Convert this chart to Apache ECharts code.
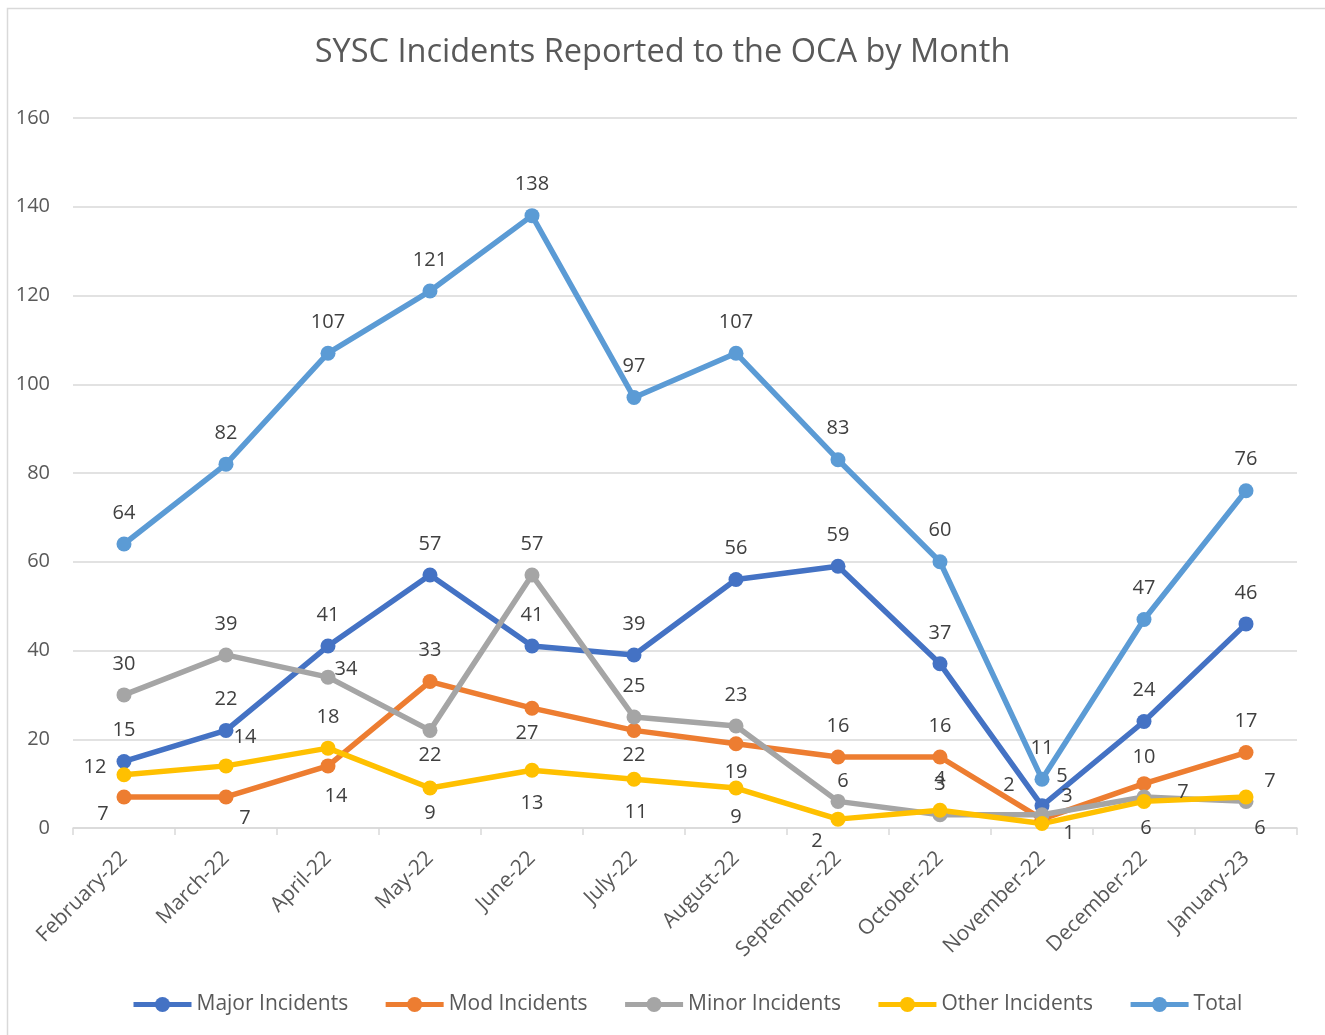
<!DOCTYPE html>
<html>
<head>
<meta charset="utf-8">
<script src="https://cdn.jsdelivr.net/npm/echarts@6/dist/echarts.min.js"></script>
<style>
  html, body { margin: 0; padding: 0; background: #fff; }
  #chart { width: 1325px; height: 1035px; }
</style>
</head>
<body>
<div id="chart"></div>
<script>
// data
var months = ['February-22', 'March-22', 'April-22', 'May-22', 'June-22', 'July-22',
              'August-22', 'September-22', 'October-22', 'November-22', 'December-22', 'January-23'];
var majorIncidents = [15, 22, 41, 57, 41, 39, 56, 59, 37, 5, 24, 46];
var modIncidents   = [7, 7, 14, 33, 27, 22, 19, 16, 16, 2, 10, 17];
var minorIncidents = [30, 39, 34, 22, 57, 25, 23, 6, 3, 3, 7, 6];
var otherIncidents = [12, 14, 18, 9, 13, 11, 9, 2, 4, 1, 6, 7];
var totalIncidents = [64, 82, 107, 121, 138, 97, 107, 83, 60, 11, 47, 76];

// label offsets from the point centre (null = above)
var majorLabelPos = [null, null, null, null, null, null, null, null, null, [20, -30], null, null];
var modLabelPos   = [[-21, 17], [19, 21], [8, 30], null, [-5, 25], [0, 25], [0, 29], null, null, [-33, -34], [0, -26], null];
var minorLabelPos = [null, null, [18, -8], [0, 25], null, null, null, [5, -20], [0, -30], [25, -18], [39, -5], [14, 27]];
var otherLabelPos = [[-29, -7], [19, -29], null, [0, 25], [0, 33], [2, 33], [0, 29], [-21, 22], null, [27, 10], [2, 27], [24, -16]];
var totalLabelPos = [null, null, null, null, null, null, null, null, null, null, null, null];

var FONT = '"Open Sans", "Noto Sans", sans-serif';

function buildData(values, offsets) {
  return values.map(function (v, i) {
    return { value: v, label: { offset: offsets[i] || [0, -31] } };
  });
}

function lineSeries(name, color, values, offsets) {
  return {
    name: name,
    type: 'line',
    data: buildData(values, offsets),
    symbol: 'circle',
    symbolSize: 15,
    lineStyle: { color: color, width: 5.5 },
    itemStyle: { color: color },
    label: {
      show: true,
      position: 'inside',
      fontSize: 20,
      fontFamily: FONT,
      color: '#404040'
    },
    emphasis: { disabled: true }
  };
}

var myChart = echarts.init(document.getElementById('chart'));
var option = {
  animation: false,
  backgroundColor: '#fff',
  graphic: [{
    type: 'rect',
    shape: { x: 7.5, y: 8.5, width: 1400, height: 1100 },
    style: { fill: 'none', stroke: '#D9D9D9', lineWidth: 1.5 },
    silent: true
  }],
  title: {
    text: 'SYSC Incidents Reported to the OCA by Month',
    left: 'center',
    top: 31,
    textStyle: { fontSize: 32.5, fontWeight: 'normal', color: '#595959', fontFamily: FONT }
  },
  legend: {
    bottom: 15,
    left: 126,
    itemWidth: 58,
    itemHeight: 19,
    itemGap: 35,
    lineStyle: { width: 5 },
    textStyle: { fontSize: 21, color: '#595959', fontFamily: FONT },
    data: ['Major Incidents', 'Mod Incidents', 'Minor Incidents', 'Other Incidents', 'Total']
  },
  grid: { left: 73, right: 28, top: 118, bottom: 207 },
  xAxis: {
    type: 'category',
    data: months,
    boundaryGap: true,
    axisLine: { lineStyle: { color: '#D9D9D9', width: 1.5 } },
    axisTick: { show: true, length: 7, lineStyle: { color: '#D9D9D9', width: 1.5 } },
    axisLabel: { rotate: 45, fontSize: 21, color: '#595959', fontFamily: FONT, margin: 27, interval: 0 }
  },
  yAxis: {
    type: 'value',
    min: 0,
    max: 160,
    interval: 20,
    axisLine: { show: false },
    axisTick: { show: false },
    splitLine: { lineStyle: { color: '#D9D9D9', width: 1.5 } },
    axisLabel: { fontSize: 20, color: '#595959', fontFamily: FONT, margin: 23 }
  },
  series: [
    lineSeries('Major Incidents', '#4472C4', majorIncidents, majorLabelPos),
    lineSeries('Mod Incidents', '#ED7D31', modIncidents, modLabelPos),
    lineSeries('Minor Incidents', '#A5A5A5', minorIncidents, minorLabelPos),
    lineSeries('Other Incidents', '#FFC000', otherIncidents, otherLabelPos),
    lineSeries('Total', '#5B9BD5', totalIncidents, totalLabelPos)
  ]
};
myChart.setOption(option);
</script>
</body>
</html>
